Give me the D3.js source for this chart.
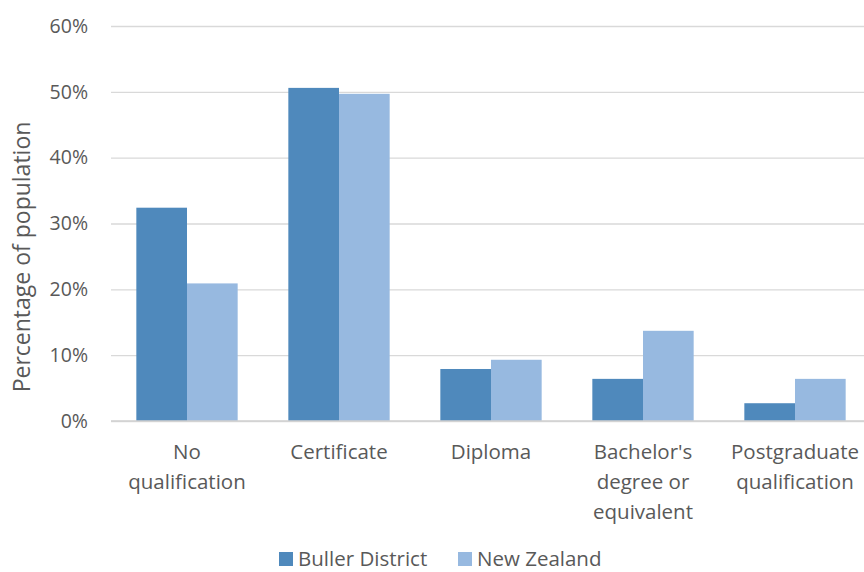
<!DOCTYPE html>
<html>
<head>
<meta charset="utf-8">
<script src="https://cdn.jsdelivr.net/npm/d3@7"></script>
<style>
  body { margin: 0; background: #fff; }
  text { font-family: "Open Sans", sans-serif; fill: #595959; }
</style>
</head>
<body>
<div id="chart"></div>
<script>
// Chart data
const categories = [
    ['No', 'qualification'],
    ['Certificate'],
    ['Diploma'],
    ["Bachelor's", 'degree or', 'equivalent'],
    ['Postgraduate', 'qualification']
];
const seriesNames = ['Buller District', 'New Zealand'];
const bullerValues = [32.4, 50.6, 7.9, 6.4, 2.7];
const nzValues = [20.9, 49.7, 9.3, 13.7, 6.4];
const yTicks = [0, 10, 20, 30, 40, 50, 60];

const colors = ['#4f89bc', '#97b9e0'];

const width = 864, height = 572;
const margin = { top: 26, right: -7, bottom: 151, left: 111 };
const innerW = width - margin.left - margin.right;
const innerH = height - margin.top - margin.bottom;

const svg = d3.select('#chart')
    .append('svg')
    .attr('width', width)
    .attr('height', height);

const g = svg.append('g')
    .attr('transform', `translate(${margin.left},${margin.top})`);

const x = d3.scaleBand()
    .domain(d3.range(categories.length))
    .range([0, innerW])
    .paddingInner(1 / 3)
    .paddingOuter(1 / 6);

const xs = d3.scaleBand()
    .domain(seriesNames)
    .range([0, x.bandwidth()]);

const y = d3.scaleLinear()
    .domain([0, 60])
    .range([innerH, 0]);

// Grid lines
g.append('g')
    .call(d3.axisLeft(y).tickValues(yTicks).tickSize(-innerW).tickFormat(''))
    .call(a => a.select('.domain').remove())
    .selectAll('line')
    .style('stroke', '#d9d9d9')
    .style('stroke-width', '1.3px');

// Y tick labels
g.append('g')
    .call(d3.axisLeft(y).tickValues(yTicks).tickSize(0).tickPadding(23).tickFormat(d => d + '%'))
    .call(a => a.select('.domain').remove())
    .selectAll('text')
    .style('font-size', '19.5px')
    .style('font-family', '"Open Sans", sans-serif')
    .attr('fill', '#595959');

// Bars
const series = [bullerValues, nzValues];
series.forEach((vals, si) => {
    g.selectAll(null)
        .data(vals)
        .enter()
        .append('rect')
        .attr('x', (d, i) => x(i) + xs(seriesNames[si]))
        .attr('y', d => y(d))
        .attr('width', xs.bandwidth())
        .attr('height', d => innerH - y(d))
        .attr('fill', colors[si]);
});

// Baseline
g.append('line')
    .attr('x1', 0).attr('x2', innerW)
    .attr('y1', innerH).attr('y2', innerH)
    .attr('stroke', '#d0d0d0')
    .attr('stroke-width', 1.5);

// X labels
categories.forEach((lines, i) => {
    const t = g.append('text')
        .attr('text-anchor', 'middle')
        .attr('x', x(i) + x.bandwidth() / 2)
        .attr('y', innerH + 38)
        .style('font-size', '20.5px');
    lines.forEach((ln, j) => {
        t.append('tspan')
            .attr('x', x(i) + x.bandwidth() / 2)
            .attr('dy', j === 0 ? 0 : 30)
            .text(ln);
    });
});

// Y axis title
svg.append('text')
    .attr('transform', `translate(30,257) rotate(-90)`)
    .attr('text-anchor', 'middle')
    .style('font-size', '23px')
    .text('Percentage of population');

// Legend
const legendX = [279, 458];
seriesNames.forEach((name, i) => {
    const lg = svg.append('g').attr('transform', `translate(${legendX[i]},552)`);
    lg.append('rect')
        .attr('width', 14).attr('height', 14)
        .attr('fill', colors[i]);
    lg.append('text')
        .attr('x', 19).attr('y', 14)
        .style('font-size', '20.5px')
        .text(name);
});
</script>
</body>
</html>
